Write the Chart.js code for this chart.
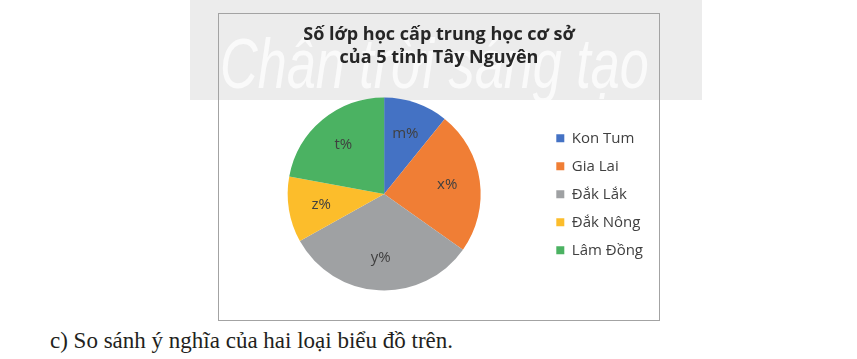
<!DOCTYPE html>
<html>
<head>
<meta charset="utf-8">
<script src="https://cdn.jsdelivr.net/npm/chart.js@4.4.1/dist/chart.umd.min.js"></script>
<style>
  html, body { margin: 0; padding: 0; background: #ffffff; width: 857px; height: 359px; overflow: hidden; }
  #band { position: absolute; left: 190px; top: 0; width: 512px; height: 100px; background: #ececec; overflow: hidden; }
  #wm { position: absolute; left: 30px; top: 14px; font-family: "Liberation Sans", sans-serif; font-style: italic;
        font-size: 70px; line-height: 100px; color: #fafafa; white-space: nowrap; transform-origin: 0 0; transform: scaleX(0.745); }
  #box { position: absolute; left: 218px; top: 13px; width: 442px; height: 308px; box-sizing: border-box;
         border: 1px solid #a3a3a3; }
  #box canvas { display: block; }
  #caption { position: absolute; left: 50px; top: 327px; font-family: "Liberation Serif", "Times New Roman", serif;
             font-size: 23px; line-height: 28px; color: #231f20; white-space: nowrap; }
</style>
</head>
<body>
<div id="band"><div id="wm">Chân trời sáng tạo</div></div>
<div id="box"><canvas id="c" width="440" height="306"></canvas></div>
<div id="caption">c) So sánh ý nghĩa của hai loại biểu đồ trên.</div>
<script>
const titleLines = ["Số lớp học cấp trung học cơ sở", "của 5 tỉnh Tây Nguyên"];
const provinces = ["Kon Tum", "Gia Lai", "Đắk Lắk", "Đắk Nông", "Lâm Đồng"];
const shares = [10.8, 24.0, 32.1, 11.0, 22.1];
const sliceLabels = ["m%", "x%", "y%", "z%", "t%"];
const sliceColors = ["#4472C4", "#F07E35", "#9FA1A3", "#FCBD2B", "#4BB262"];

const sliceLabelPlugin = {
  id: "sliceLabels",
  afterDatasetsDraw(chart) {
    const ctx = chart.ctx;
    const meta = chart.getDatasetMeta(0);
    ctx.save();
    ctx.font = "15px 'Open Sans', sans-serif";
    ctx.fillStyle = "#404040";
    ctx.textAlign = "center";
    ctx.textBaseline = "middle";
    meta.data.forEach((arc, i) => {
      const p = arc.getProps(["x", "y", "startAngle", "endAngle", "outerRadius"], true);
      const mid = (p.startAngle + p.endAngle) / 2;
      const r = p.outerRadius * 0.66;
      ctx.fillText(sliceLabels[i], p.x + Math.cos(mid) * r, p.y + Math.sin(mid) * r);
    });
    ctx.restore();
  }
};

new Chart(document.getElementById("c"), {
  type: "pie",
  data: {
    labels: provinces,
    datasets: [{
      data: shares,
      backgroundColor: sliceColors,
      borderWidth: 0
    }]
  },
  options: {
    responsive: false,
    animation: false,
    layout: { padding: { left: 6, right: 6, top: 0, bottom: 29.5 } },
    plugins: {
      title: {
        display: true,
        text: titleLines,
        color: "#262626",
        font: { family: "'Open Sans', sans-serif", size: 18, weight: "bold", lineHeight: 23 / 18 },
        padding: { top: 9.5, bottom: 28 }
      },
      legend: {
        position: "right",
        title: { display: true, text: " ", font: { size: 10, lineHeight: 1 }, padding: { top: 74, bottom: 0 } },
        labels: {
          boxWidth: 8,
          boxHeight: 8,
          padding: 13,
          color: "#404040",
          font: { family: "'Open Sans', sans-serif", size: 15 }
        }
      },
      tooltip: { enabled: false }
    }
  },
  plugins: [sliceLabelPlugin]
});
</script>
</body>
</html>
